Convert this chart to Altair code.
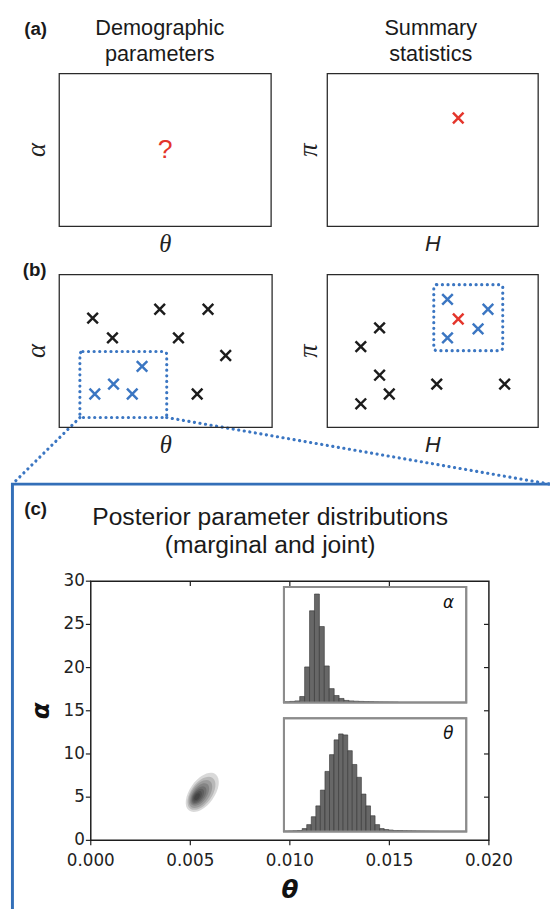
import altair as alt
import pandas as pd

# ------------------------------------------------------------------ data
# (a) unknown demographic parameters and the observed summary statistics
a_unknown_theta = [5.0]
a_unknown_alpha = [5.0]
a_obs_H = [6.21]
a_obs_pi = [7.10]

# (b) simulated parameter sets (theta, alpha) and their summary statistics (H, pi)
b_theta = [1.57, 4.72, 6.99, 2.50, 5.60, 7.82, 6.48, 1.67, 2.55, 3.43, 3.89]
b_alpha = [7.16, 7.74, 7.74, 5.87, 5.87, 4.71, 2.19, 2.19, 2.84, 2.19, 4.00]
b_param_status = ["rejected"] * 7 + ["accepted"] * 4
b_H = [2.48, 1.59, 2.48, 2.94, 1.59, 5.19, 8.41, 5.70, 7.62, 7.15, 5.70]
b_pi = [6.52, 5.29, 3.42, 2.19, 1.55, 2.84, 2.84, 8.39, 7.74, 6.45, 5.87]
b_stat_status = ["rejected"] * 7 + ["accepted"] * 4
param_window_theta = [0.97, 5.05]
param_window_alpha = [0.65, 4.97]
stat_window_H = [5.05, 8.32]
stat_window_pi = [5.03, 9.35]

# (c) posterior
theta_ticks = [0.000, 0.005, 0.010, 0.015, 0.020]
alpha_ticks = [0, 5, 10, 15, 20, 25, 30]
alpha_hist_counts = [0.5, 1, 1.5, 6, 36, 93, 110, 77, 37, 14, 7, 4, 2, 1.5, 1.2, 1,
                     0.8, 0.7, 0.5, 0.4, 0.3, 0.2, 0.1]
theta_hist_counts = [0.3, 0.5, 0.7, 1, 3, 7, 15, 26, 42, 61, 78, 93, 99, 98, 82, 68,
                     55, 38, 26, 16, 7, 3, 2, 1.5, 1, 1, 0.8, 0.7, 0.6, 0.5, 0.4,
                     0.3, 0.2, 0.1]
joint_theta = [0.00560, 0.00556, 0.00551, 0.00547, 0.00543, 0.00539, 0.00536, 0.00534]
joint_alpha = [5.55, 5.45, 5.37, 5.30, 5.22, 5.15, 5.10, 5.06]
joint_extent = [2.6, 2.2, 1.85, 1.5, 1.2, 0.95, 0.7, 0.45]

# ------------------------------------------------------------------ layout (page px)
OFF = 8
W, H = 550, 901
PANEL = {
    "AL": (60, 275, 68, 223),
    "AR": (332, 546, 68, 223),
    "BL": (60, 276, 272, 427),
    "BR": (332, 546, 272, 427),
    "CM": (92, 496, 583, 846),
    "CA": (288, 473, 589, 706),
    "CT": (288, 473, 722, 837),
}
BLACK = "#1c1c1c"
BLUE = "#3b76c2"
RED = "#e4352b"
FRAME = "#336fb8"
XPATH = "M-1,-1L1,1M-1,1L1,-1"
ELLIPSE = "M0,-1A0.55,1,0,1,1,0,1A0.55,1,0,1,1,0,-1Z"
status_scale = alt.Scale(domain=["rejected", "accepted", "observed"], range=[BLACK, BLUE, RED])


def xsc(key, dom):
    p = PANEL[key]
    return alt.Scale(domain=dom, range=[p[0] - OFF, p[1] - OFF], nice=False, zero=False)


def ysc(key, dom):
    p = PANEL[key]
    return alt.Scale(domain=dom, range=[p[3] - OFF, p[2] - OFF], nice=False, zero=False)


def XE(f, key, dom):
    return alt.X(f, type="quantitative", scale=xsc(key, dom), axis=None)


def YE(f, key, dom):
    return alt.Y(f, type="quantitative", scale=ysc(key, dom), axis=None)


def schematic(key, xlab, ylab, xlab_font, ylab_font, points, window=None):
    dom = [0, 10]
    layers = []
    border = pd.DataFrame({"x0": [0], "x1": [10], "y0": [0], "y1": [10]})
    layers.append(
        alt.Chart(border).mark_rect(fillOpacity=0, stroke="#2a2a2a", strokeWidth=1.3).encode(
            x=XE("x0", key, dom), x2="x1", y=YE("y0", key, dom), y2="y1")
    )
    if window is not None:
        wdf = pd.DataFrame({"x0": [window[0][0]], "x1": [window[0][1]],
                            "y0": [window[1][0]], "y1": [window[1][1]]})
        layers.append(
            alt.Chart(wdf).mark_rect(fillOpacity=0, stroke=BLUE, strokeWidth=3.2,
                                     strokeDash=[0.1, 5.6], strokeCap="round", cornerRadius=3).encode(
                x=XE("x0", key, dom), x2="x1", y=YE("y0", key, dom), y2="y1")
        )
    if points is not None:
        layers.append(
            alt.Chart(points).mark_point(shape=XPATH, size=115, strokeWidth=2.5, filled=False,
                                         opacity=1).encode(
                x=XE("x", key, dom), y=YE("y", key, dom),
                color=alt.Color("status:N", scale=status_scale, legend=None))
        )
    ydf = pd.DataFrame({"x": [0], "y": [5], "t": [ylab]})
    layers.append(
        alt.Chart(ydf).mark_text(font=ylab_font[0], fontStyle=ylab_font[1], fontSize=ylab_font[2],
                                 angle=270, xOffset=ylab_font[3], baseline="middle",
                                 align="center", color="#222").encode(
            x=XE("x", key, dom), y=YE("y", key, dom), text="t")
    )
    xdf = pd.DataFrame({"x": [5], "y": [0], "t": [xlab]})
    layers.append(
        alt.Chart(xdf).mark_text(font=xlab_font[0], fontStyle=xlab_font[1], fontSize=xlab_font[2],
                                 yOffset=18, baseline="middle", align="center", color="#222").encode(
            x=XE("x", key, dom), y=YE("y", key, dom), text="t")
    )
    return alt.layer(*layers)


serif_greek = ("Liberation Serif", "italic", 27, -22)
serif_theta = ("Liberation Serif", "italic", 25)
pi_font = ("Liberation Serif", "italic", 27, -18)
H_font = ("Liberation Sans", "italic", 22)

# ---- panel (a)
qdf = pd.DataFrame({"x": a_unknown_theta, "y": a_unknown_alpha, "t": ["?"]})
panel_al = alt.layer(
    schematic("AL", "θ", "α", serif_theta, serif_greek, None),
    alt.Chart(qdf).mark_text(font="Liberation Sans", fontSize=27, color=RED, baseline="middle",
                             align="center").encode(
        x=XE("x", "AL", [0, 10]), y=YE("y", "AL", [0, 10]), text="t"),
)
obs_df = pd.DataFrame({"x": a_obs_H, "y": a_obs_pi, "status": ["observed"]})
panel_ar = schematic("AR", "H", "π", H_font, pi_font, obs_df)

# ---- panel (b)
bl_df = pd.DataFrame({"x": b_theta, "y": b_alpha, "status": b_param_status})
panel_bl = schematic("BL", "θ", "α", serif_theta, serif_greek, bl_df,
                     (param_window_theta, param_window_alpha))
br_df = pd.DataFrame({"x": b_H + a_obs_H, "y": b_pi + a_obs_pi,
                      "status": b_stat_status + ["observed"]})
panel_br = schematic("BR", "H", "π", H_font, pi_font, br_df,
                     (stat_window_H, stat_window_pi))

# ---- panel (c) main joint plot
TD = [0, 0.02]
AD = [0, 30]
cm = []
cm.append(
    alt.Chart(pd.DataFrame({"x0": [0], "x1": [0.02], "y0": [0], "y1": [30]}))
    .mark_rect(fillOpacity=0, stroke="#1e1e1e", strokeWidth=1.5)
    .encode(x=XE("x0", "CM", TD), x2="x1", y=YE("y0", "CM", AD), y2="y1")
)
blob = pd.DataFrame({"x": joint_theta, "y": joint_alpha, "e": joint_extent})
ppa = (PANEL["CM"][3] - PANEL["CM"][2]) / 30.0
cm.append(
    alt.Chart(blob).mark_point(shape=ELLIPSE, filled=True, color="black", opacity=0.15,
                               angle=36, strokeWidth=0)
    .encode(x=XE("x", "CM", TD), y=YE("y", "CM", AD),
            size=alt.Size("e:Q", legend=None,
                          scale=alt.Scale(type="pow", exponent=2, domain=[0, 3],
                                          range=[0, (2 * 3 * ppa) ** 2])))
)
bt = pd.DataFrame({"x": theta_ticks, "y": [0] * len(theta_ticks),
                   "t": [f"{v:.3f}" for v in theta_ticks]})
cm.append(alt.Chart(bt).mark_rule(color="#1e1e1e", strokeWidth=1.2, y2Offset=5)
          .encode(x=XE("x", "CM", TD), y=YE("y", "CM", AD), y2="y"))
cm.append(alt.Chart(bt).mark_text(font="DejaVu Sans", fontSize=17, color="#222", yOffset=21,
                                  baseline="middle", align="center")
          .encode(x=XE("x", "CM", TD), y=YE("y", "CM", AD), text="t"))
lt = pd.DataFrame({"x": [0] * len(alpha_ticks), "y": alpha_ticks,
                   "t": [str(v) for v in alpha_ticks]})
cm.append(alt.Chart(lt).mark_rule(color="#1e1e1e", strokeWidth=1.2, x2Offset=-5)
          .encode(x=XE("x", "CM", TD), x2="x", y=YE("y", "CM", AD)))
cm.append(alt.Chart(lt).mark_text(font="DejaVu Sans", fontSize=17, color="#222", xOffset=-6,
                                  baseline="middle", align="right")
          .encode(x=XE("x", "CM", TD), y=YE("y", "CM", AD), text="t"))
tt = pd.DataFrame({"x": theta_ticks[1:-1], "y": [30] * 3})
cm.append(alt.Chart(tt).mark_rule(color="#1e1e1e", strokeWidth=1.2, y2Offset=5)
          .encode(x=XE("x", "CM", TD), y=YE("y", "CM", AD), y2="y"))
rt = pd.DataFrame({"x": [0.02] * 5, "y": alpha_ticks[1:-1]})
cm.append(alt.Chart(rt).mark_rule(color="#1e1e1e", strokeWidth=1.2, x2Offset=-5)
          .encode(x=XE("x", "CM", TD), x2="x", y=YE("y", "CM", AD)))
lab = pd.DataFrame({"x": [0, 0.01], "y": [15, 0], "t": ["α", "θ"]})
cm.append(alt.Chart(lab.iloc[[0]]).mark_text(font="DejaVu Sans", fontStyle="italic",
                                            fontWeight="bold", fontSize=25, angle=270,
                                            xOffset=-50, color="#111", baseline="middle",
                                            align="center")
          .encode(x=XE("x", "CM", TD), y=YE("y", "CM", AD), text="t"))
cm.append(alt.Chart(lab.iloc[[1]]).mark_text(font="DejaVu Sans", fontStyle="italic",
                                            fontWeight="bold", fontSize=25, yOffset=50,
                                            color="#111", baseline="middle", align="center")
          .encode(x=XE("x", "CM", TD), y=YE("y", "CM", AD), text="t"))
panel_cm = alt.layer(*cm)


def inset(key, counts, xdom, ydom, label):
    n = len(counts)
    df = pd.DataFrame({"k0": list(range(n)), "k1": [i + 1 for i in range(n)], "c": counts})
    df = df[df["c"] > 0]
    box = pd.DataFrame({"x0": [xdom[0]], "x1": [xdom[1]], "y0": [ydom[0]], "y1": [ydom[1]]})
    lt_ = pd.DataFrame({"x": [xdom[1]], "y": [ydom[1]], "t": [label]})
    return alt.layer(
        alt.Chart(box).mark_rect(fill="white", stroke="#8c8c8c", strokeWidth=2)
        .encode(x=XE("x0", key, xdom), x2="x1", y=YE("y0", key, ydom), y2="y1"),
        alt.Chart(df).mark_rect(fill="#676767", stroke="#333333", strokeWidth=0.6)
        .encode(x=XE("k0", key, xdom), x2="k1", y=YE("c", key, ydom), y2=alt.value(PANEL[key][3] - OFF)),
        alt.Chart(box).mark_rect(fillOpacity=0, stroke="#8c8c8c", strokeWidth=2)
        .encode(x=XE("x0", key, xdom), x2="x1", y=YE("y0", key, ydom), y2="y1"),
        alt.Chart(lt_).mark_text(font="DejaVu Sans", fontStyle="italic", fontSize=17,
                                 xOffset=-18, yOffset=16, color="#111", baseline="middle",
                                 align="center")
        .encode(x=XE("x", key, xdom), y=YE("y", key, ydom), text="t"),
    )


panel_ca = inset("CA", alpha_hist_counts, [-0.2, 36.8], [0, 117], "α")
panel_ct = inset("CT", theta_hist_counts, [0, 40], [0, 115], "θ")

# ---- canvas: frame, connectors, panel letters and titles (page coordinates)
CX = alt.Scale(domain=[OFF, OFF + W], range=[0, W], nice=False, zero=False)
CY = alt.Scale(domain=[OFF, OFF + H], range=[0, H], nice=False, zero=False)


def cx(f):
    return alt.X(f, type="quantitative", scale=CX, axis=None)


def cy(f):
    return alt.Y(f, type="quantitative", scale=CY, axis=None)


bl = PANEL["BL"]


def bl_px(tx, ay):
    return (bl[0] + (tx / 10) * (bl[1] - bl[0]), bl[3] - (ay / 10) * (bl[3] - bl[2]))


frame_left, frame_top = 12.5, 484.5
p1 = bl_px(param_window_theta[0], param_window_alpha[0])
p2 = bl_px(param_window_theta[1], param_window_alpha[0])
conn = pd.DataFrame({"x": [p1[0], p2[0]], "y": [p1[1], p2[1]],
                     "x2": [frame_left, 558.0], "y2": [frame_top, frame_top]})
frame = pd.DataFrame({"x": [frame_left, frame_left, 570], "y": [930, frame_top, frame_top],
                      "o": [0, 1, 2]})
letters = pd.DataFrame({"x": [36, 35, 36], "y": [23, 267, 510], "t": ["(a)", "(b)", "(c)"]})
titles = pd.DataFrame({"x": [162, 437], "y": [22, 22],
                       "t": ["Demographic\nparameters", "Summary\nstatistics"]})
ctitle = pd.DataFrame({"x": [274], "y": [518],
                       "t": ["Posterior parameter distributions\n(marginal and joint)"]})
canvas = alt.layer(
    alt.Chart(frame).mark_line(color=FRAME, strokeWidth=3, strokeJoin="miter")
    .encode(x=cx("x"), y=cy("y"), order="o:Q"),
    alt.Chart(conn).mark_rule(color=BLUE, strokeWidth=3.2, strokeDash=[0.1, 5.6], strokeCap="round")
    .encode(x=cx("x"), y=cy("y"), x2="x2", y2="y2"),
    alt.Chart(letters).mark_text(font="Liberation Sans", fontWeight="bold", fontSize=19,
                                 color="#1a1a1a", baseline="middle", align="center")
    .encode(x=cx("x"), y=cy("y"), text="t"),
    alt.Chart(titles).mark_text(font="Liberation Sans", fontSize=22, lineBreak="\n", lineHeight=26,
                                color="#1a1a1a", baseline="middle", align="center")
    .encode(x=cx("x"), y=cy("y"), text="t"),
    alt.Chart(ctitle).mark_text(font="Liberation Sans", fontSize=25, lineBreak="\n", lineHeight=28,
                                color="#1a1a1a", baseline="middle", align="center")
    .encode(x=cx("x"), y=cy("y"), text="t"),
)

chart = (
    alt.layer(canvas, panel_al, panel_ar, panel_bl, panel_br, panel_cm, panel_ca, panel_ct)
    .resolve_scale(x="independent", y="independent")
    .properties(width=W, height=H, autosize=alt.AutoSizeParams(type="none"),
                padding={"left": 0, "top": 0, "right": 0, "bottom": 0})
    .configure_view(stroke=None)
)
chart.save("out.html", embed_options={"renderer": "svg", "actions": False})
